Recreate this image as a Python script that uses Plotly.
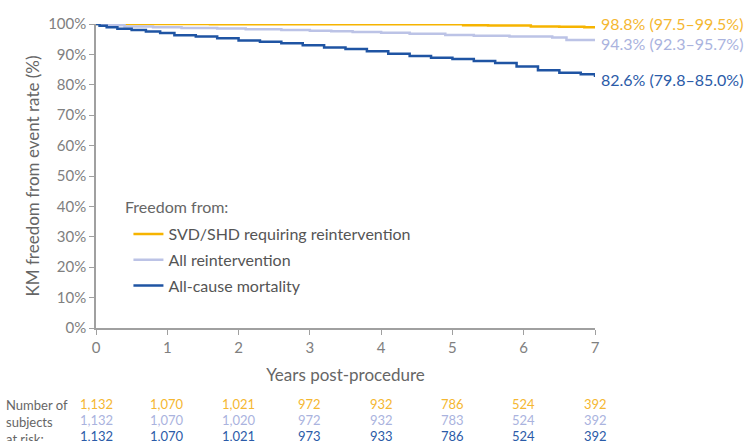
import plotly.graph_objects as go

# Kaplan-Meier estimates (percent event-free) by years post-procedure
svd_t = [0, 1.6, 3.4, 5.15, 5.5, 6.1, 6.5, 6.85, 7.0]
svd_s = [100, 99.95, 99.9, 99.6, 99.5, 99.2, 99.1, 98.9, 98.8]

reint_t = [0, 0.1, 0.4, 0.8, 1.2, 1.7, 2.1, 2.6, 3.0, 3.3, 3.6, 4.0, 4.4, 4.9, 5.3, 5.8, 6.4, 6.6, 7.0]
reint_s = [100, 99.6, 99.2, 98.9, 98.7, 98.5, 98.3, 98.0, 97.8, 97.6, 97.4, 97.1, 96.8, 96.4, 96.1, 95.9, 95.6, 94.7, 94.3]

mort_t = [0, 0.05, 0.15, 0.3, 0.5, 0.7, 0.9, 1.1, 1.4, 1.7, 2.0, 2.3, 2.6, 2.9, 3.2, 3.5,
          3.8, 4.1, 4.4, 4.7, 5.0, 5.3, 5.6, 5.9, 6.2, 6.5, 6.8, 7.0]
mort_s = [100, 99.4, 98.9, 98.4, 98.0, 97.5, 97.0, 96.3, 95.9, 95.3, 94.6, 94.2, 93.7, 93.0, 92.3, 91.8,
          91.0, 90.2, 89.5, 88.9, 88.5, 87.8, 87.2, 86.0, 84.8, 84.0, 83.5, 82.6]

series_names = ["SVD/SHD requiring reintervention", "All reintervention", "All-cause mortality"]
end_labels = ["98.8% (97.5–99.5%)", "94.3% (92.3–95.7%)", "82.6% (79.8–85.0%)"]
line_colors = ["#f6b400", "#bcc3e6", "#1f54a3"]
text_colors = ["#f5b731", "#aab3de", "#2b5ba8"]
label_nudge = [4, -2, -3]

years = [0, 1, 2, 3, 4, 5, 6, 7]
at_risk = [
    ["1,132", "1,070", "1,021", "972", "932", "786", "524", "392"],
    ["1,132", "1,070", "1,020", "972", "932", "783", "524", "392"],
    ["1,132", "1,070", "1,021", "973", "933", "786", "524", "392"],
]
y_ticks = list(range(0, 101, 10))

fig = go.Figure()
curves = [(svd_t, svd_s), (reint_t, reint_s), (mort_t, mort_s)]
for i, (t, s) in enumerate(curves):
    fig.add_trace(go.Scatter(
        x=t, y=s, mode="lines", line=dict(color=line_colors[i], width=2.5, shape="hv"),
        name=series_names[i], legendgroup=str(i),
    ))

annotations = []
# end-of-follow-up estimates
for i, (t, s) in enumerate(curves):
    annotations.append(dict(
        x=t[-1], y=s[-1], xref="x", yref="y", text=end_labels[i], showarrow=False,
        xanchor="left", yanchor="middle", xshift=4, yshift=label_nudge[i],
        font=dict(family="Lato", size=16, color=text_colors[i]),
    ))

# legend heading
annotations.append(dict(
    x=0, y=0, xref="paper", yref="paper", text="Freedom from:", showarrow=False,
    xanchor="left", yanchor="middle", xshift=27, yshift=122,
    font=dict(family="Lato", size=16, color="#666666"),
))

# numbers at risk table
for r, row in enumerate(at_risk):
    for yr, v in zip(years, row):
        annotations.append(dict(
            x=yr, y=0, xref="x", yref="paper", text=v, showarrow=False,
            xanchor="center", yanchor="middle", yshift=-76 - 16 * r,
            font=dict(family="Lato", size=13, color=text_colors[r]),
        ))
annotations.append(dict(
    x=0, y=0, xref="paper", yref="paper", text="Number of<br>subjects<br>at risk:",
    showarrow=False, xanchor="left", yanchor="top", align="left",
    xshift=-92, yshift=-67,
    font=dict(family="Lato", size=13, color="#666666"),
))

fig.update_layout(
    width=749, height=441,
    margin=dict(l=96, r=154, t=24, b=113),
    paper_bgcolor="white", plot_bgcolor="white",
    font=dict(family="Lato", color="#666666"),
    showlegend=True,
    legend=dict(
        x=0.065, y=0.365, xanchor="left", yanchor="top",
        font=dict(size=16, color="#555555"),
        tracegroupgap=2, bgcolor="rgba(0,0,0,0)",
    ),
    annotations=annotations,
    xaxis=dict(
        range=[0, 7], tickvals=years, showgrid=False, zeroline=False,
        showline=True, linecolor="#a0a0a0", linewidth=1.5,
        ticks="outside", ticklen=5, tickcolor="#a0a0a0",
        tickfont=dict(size=15, color="#808080"),
        title=dict(text="Years post-procedure", font=dict(size=17, color="#666666"), standoff=14),
    ),
    yaxis=dict(
        range=[0, 100], tickvals=y_ticks, ticktext=[f"{v}%" for v in y_ticks],
        showgrid=False, zeroline=False,
        showline=True, linecolor="#a0a0a0", linewidth=1.5,
        ticks="outside", ticklen=5, tickcolor="#a0a0a0",
        tickfont=dict(size=15, color="#808080"),
        title=dict(text="KM freedom from event rate (%)", font=dict(size=17, color="#666666"), standoff=4),
    ),
)

fig.write_html("out.html")
